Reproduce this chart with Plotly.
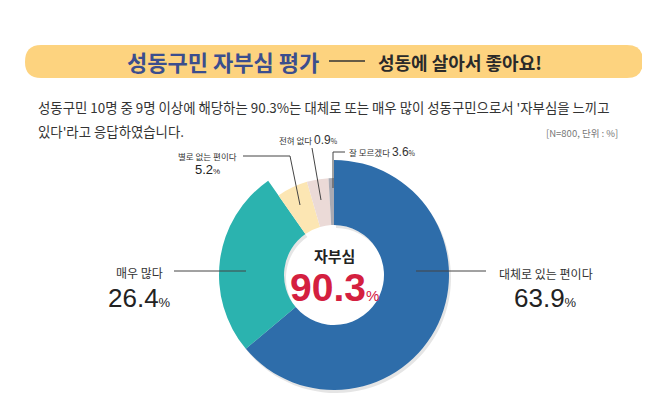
import plotly.graph_objects as go

# ---- data ----
categories = ["대체로 있는 편이다", "매우 많다", "별로 없는 편이다", "잘 모르겠다", "전혀 없다"]
values = [63.9, 26.4, 5.2, 3.6, 0.9]
value_labels = ["63.9", "26.4", "5.2", "3.6", "0.9"]
total_label = "90.3"
colors = ["#2E6DAA", "#2BB3AF", "#FCE6B3", "#EBDAD7", "#A9AAB3"]
big = [True, True, False, False, False]

W, H = 650, 397
KR = "Noto Sans CJK KR"
NUM = "Liberation Sans Narrow, Liberation Sans, Arial, sans-serif"

cx, cy = 326, 267
R_out, R_in, R_hole = 115, 97, 50


def dom(r, dx=0, dy=0):
    x0, x1 = (cx + dx - r) / W, (cx + dx + r) / W
    y0, y1 = 1 - (cy + dy + r) / H, 1 - (cy + dy - r) / H
    return dict(x=[x0, x1], y=[y0, y1])


fig = go.Figure()

# shadow
fig.add_trace(go.Pie(
    values=values, labels=categories, sort=False, direction="clockwise",
    marker=dict(colors=["rgba(0,0,0,0.10)" if b else "rgba(0,0,0,0)" for b in big],
                line=dict(width=0)),
    hole=R_hole / R_out, domain=dom(R_out, 2, 3), textinfo="none",
    hoverinfo="skip", showlegend=False))
# outer (large slices)
fig.add_trace(go.Pie(
    values=values, labels=categories, sort=False, direction="clockwise",
    marker=dict(colors=[c if b else "rgba(0,0,0,0)" for c, b in zip(colors, big)],
                line=dict(width=0)),
    hole=R_hole / R_out, domain=dom(R_out), textinfo="none",
    hoverinfo="skip", showlegend=False))
# inner (small slices)
fig.add_trace(go.Pie(
    values=values, labels=categories, sort=False, direction="clockwise",
    marker=dict(colors=["rgba(0,0,0,0)" if b else c for c, b in zip(colors, big)],
                line=dict(width=0)),
    hole=R_hole / R_in, domain=dom(R_in), textinfo="none",
    hoverinfo="skip", showlegend=False))

# banner (rounded rectangle) in pixel coordinates via hidden axes
bx0, bx1, by0, by1, rr = 17, 635, 37, 70, 16
path = (f"M {bx0+rr},{by0} L {bx1-rr},{by0} Q {bx1},{by0} {bx1},{by0+rr} "
        f"Q {bx1},{by1} {bx1-rr},{by1} L {bx0+rr},{by1} Q {bx0},{by1} {bx0},{by1-rr} "
        f"Q {bx0},{by0} {bx0+rr},{by0} Z")
shapes = [
    dict(type="path", path=path, xref="x", yref="y", fillcolor="#FDD37F",
         line=dict(width=0), layer="below"),
    dict(type="line", x0=321, x1=357, y0=53, y1=53, xref="x", yref="y",
         line=dict(color="#333333", width=1.5)),
    # leader lines
    dict(type="line", x0=166, x1=238, y0=263, y1=263, xref="x", yref="y",
         line=dict(color="#444", width=1)),
    dict(type="line", x0=408, x1=478, y0=263, y1=263, xref="x", yref="y",
         line=dict(color="#444", width=1)),
    dict(type="path", path="M 235,148 L 282,148 L 292,197", xref="x", yref="y",
         line=dict(color="#444", width=1)),
    dict(type="path", path="M 304,140 L 313,192", xref="x", yref="y",
         line=dict(color="#444", width=1)),
    dict(type="path", path="M 337,144 L 325,144 L 325,180", xref="x", yref="y",
         line=dict(color="#444", width=1)),
]

ann = []


def A(x, y, text, size, color="#222", family=KR, xanchor="center", **kw):
    ann.append(dict(x=x, y=y, xref="x", yref="y", text=text, showarrow=False,
                    xanchor=xanchor, yanchor="middle",
                    font=dict(size=size, color=color, family=family), **kw))


A(215, 53, "<b>성동구민 자부심 평가</b>", 22, "#3B4E8E")
A(452, 54, "<b>성동에 살아서 좋아요!</b>", 18, "#2A2A2A")

A(28, 99, "성동구민 10명 중 9명 이상에 해당하는 90.3%는 대체로 또는 매우 많이 성동구민으로서 '자부심을 느끼고",
  13.4, "#333", xanchor="left")
A(28, 123, "있다'라고 응답하였습니다.", 13.4, "#333", xanchor="left")
A(612, 125, "[N=800, 단위 : %]", 9.5, "#777", xanchor="right")

# big labels
A(538, 265, categories[0], 12, "#333")
A(537, 290, f"{value_labels[0]}<span style='font-size:13px'>%</span>", 26, "#222", NUM)
A(131, 264, categories[1], 12, "#333")
A(131, 290, f"{value_labels[1]}<span style='font-size:13px'>%</span>", 26, "#222", NUM)
# small labels
A(199, 148, categories[2], 8.5, "#333")
A(199, 161, f"{value_labels[2]}<span style='font-size:8px'>%</span>", 13, "#222", NUM)
A(300, 132, f"{categories[4]} <span style='font-family:{NUM};font-size:12px'>{value_labels[4]}</span>"
  f"<span style='font-size:7px'>%</span>", 8.5, "#333")
A(374, 144, f"{categories[3]} <span style='font-family:{NUM};font-size:12px'>{value_labels[3]}</span>"
  f"<span style='font-size:7px'>%</span>", 8.5, "#333")

# center
A(326, 247, "<b>자부심</b>", 15, "#222")
A(326, 279, f"<b>{total_label}</b><span style='font-size:15px'>%</span>", 39, "#D4203F", NUM)

fig.update_layout(
    width=W, height=H, margin=dict(l=0, r=0, t=0, b=0),
    paper_bgcolor="white", plot_bgcolor="rgba(0,0,0,0)",
    xaxis=dict(range=[0, W], visible=False, domain=[0, 1], fixedrange=True),
    yaxis=dict(range=[H, 0], visible=False, domain=[0, 1], fixedrange=True),
    shapes=shapes, annotations=ann, showlegend=False,
)

fig.write_html("out.html")
